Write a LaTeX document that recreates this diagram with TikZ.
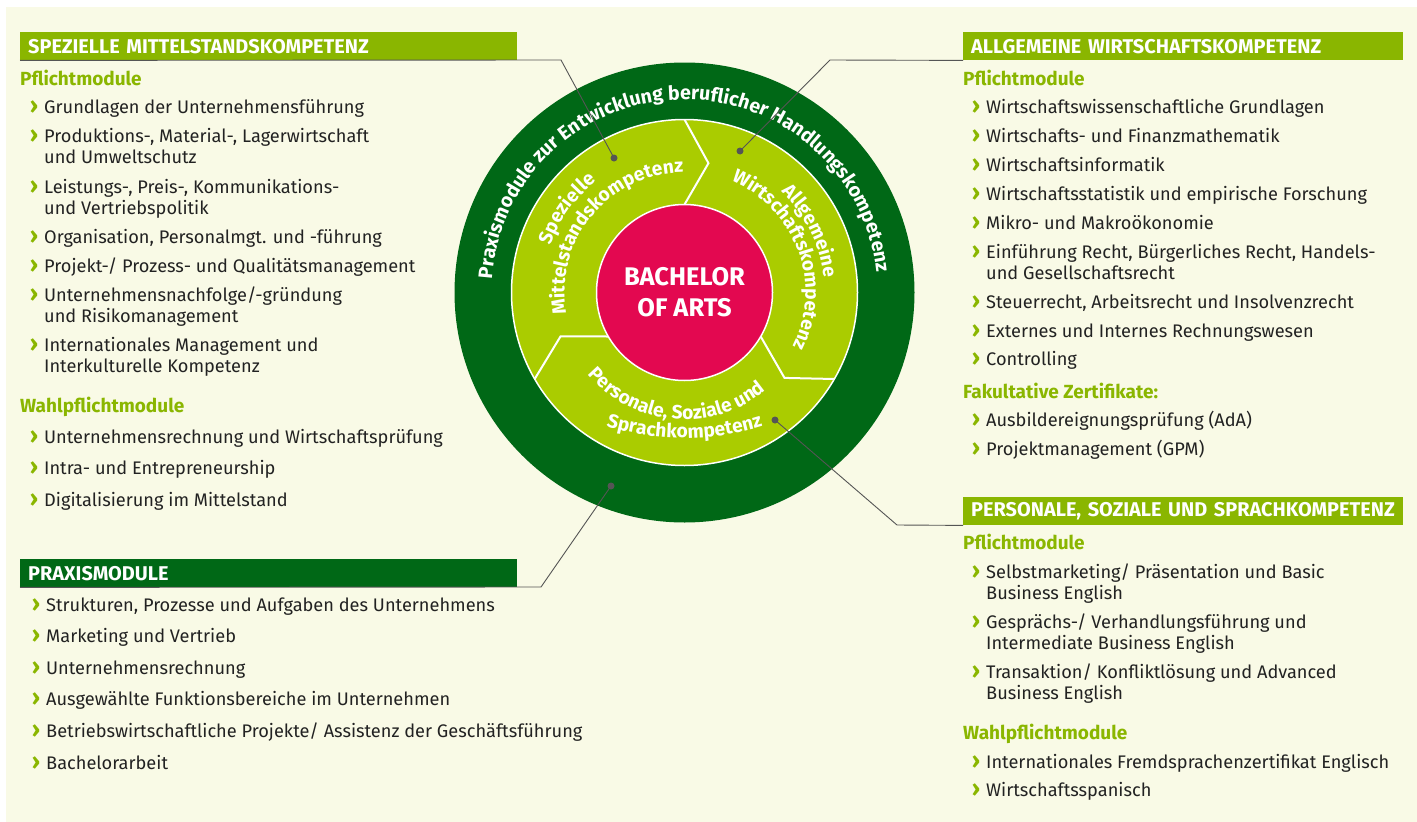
\documentclass[tikz,border=0pt]{standalone}
\usepackage{fontspec}
\setmainfont{Fira Sans}
\usetikzlibrary{decorations.text}

\definecolor{bacolor0000}{RGB}{249,250,230}
\definecolor{bacolor0001}{RGB}{138,182,0}
\definecolor{bacolor0002}{RGB}{170,204,0}
\definecolor{bacolor0003}{RGB}{0,104,22}
\definecolor{bacolor0004}{RGB}{227,8,80}
\definecolor{bacolor0005}{RGB}{85,85,85}
\definecolor{bacolor0006}{RGB}{34,34,34}

\newcommand{\kbul}{\llap{\textcolor{bacolor0001}{\bfseries\fontsize{23}{23}\selectfont ›}\hspace{6pt}}}
\newcommand{\kcurvefont}{\color{white}\bfseries\fontsize{19.6}{19}\selectfont}
\newcommand{\kinnerfont}{\color{white}\bfseries\fontsize{19.2}{19}\selectfont}

\begin{document}
\begin{tikzpicture}[
  yscale = -1,
  kstyle0/.style = {fill=bacolor0000},
  kstyle1/.style = {fill=bacolor0001,text=white,font=\bfseries\fontsize{19.9}{19.9}\selectfont,anchor=north west,inner xsep=8pt,inner ysep=0pt,minimum height=28pt,align=left},
  kstyle2/.style = {kstyle1,fill=bacolor0003},
  kstyle3/.style = {anchor=base west,inner sep=0pt,text=bacolor0001,font=\bfseries\fontsize{19}{21}\selectfont},
  kstyle4/.style = {anchor=base west,inner sep=0pt,align=left,text=bacolor0006,font=\fontsize{18.2}{21}\selectfont},
  kstyle5/.style = {color=white,line width=2pt,line join=miter},
  kstyle6/.style = {color=bacolor0005,line width=0.9pt},
  kstyle7/.style = {fill=bacolor0005},
]
  \useasboundingbox (0pt,0pt) rectangle (1417pt,822pt);
  \fill[kstyle0] (6pt,7pt) rectangle (1417pt,822pt);
  % circle
  \begin{scope}[shift={(684.5pt,292.5pt)},yscale=-1]
    \fill[bacolor0003] (0,0) circle (230pt);
    \draw[white,line width=1.5pt,fill=bacolor0002] (0,0) circle (173pt);
    \draw[kstyle5] (90:88pt) -- (79.5:131.5pt) -- (90:173pt);
    \draw[kstyle5] (210:88pt) -- (199.5:131.5pt) -- (210:173pt);
    \draw[kstyle5] (330:88pt) -- (319.5:131.5pt) -- (330:173pt);
    \draw[white,line width=1.5pt,fill=bacolor0004] (0,0) circle (88pt);
    \node (kBA) at (0pt,0pt)[align=center,text=white,font=\bfseries\fontsize{25.5}{31}\selectfont]{BACHELOR\\OF ARTS};
    \path[decorate,decoration={text along path,text align=center,text={|\kcurvefont|Praxismodule zur Entwicklung beruflicher Handlungskompetenz}}] (179:193pt) arc[start angle=179,end angle=3,radius=193pt];
    \path[decorate,decoration={text along path,text align=center,text={|\kinnerfont|Spezielle}}] (214.5:142pt) arc[start angle=214.5,end angle=74.5,radius=142pt];
    \path[decorate,decoration={text along path,text align=center,text={|\kinnerfont|Mittelstandskompetenz}}] (220.4:120pt) arc[start angle=220.4,end angle=60.4,radius=120pt];
    \path[decorate,decoration={text along path,text align=center,text={|\kinnerfont|Allgemeine}}] (96:140pt) arc[start angle=96,end angle=-44,radius=140pt];
    \path[decorate,decoration={text along path,text align=center,text={|\kinnerfont|Wirtschaftskompetenz}}] (100.3:121pt) arc[start angle=100.3,end angle=-59.7,radius=121pt];
    \path[decorate,decoration={text along path,text align=center,text={|\kinnerfont|Personale{,} Soziale und}}] (185:127pt) arc[start angle=185,end angle=345,radius=127pt];
    \path[decorate,decoration={text along path,text align=center,text={|\kinnerfont|Sprachkompetenz}}] (-153.15pt,-97.22pt) arc[start angle=235,end angle=305,radius=267pt];
  \end{scope}
  % connectors
  \coordinate (dSMK) at (614pt,158pt);
  \coordinate (kSMK) at (561pt,60pt);
  \coordinate (dAWK) at (740pt,151pt);
  \coordinate (kAWK) at (830pt,60pt);
  \coordinate (dPSS) at (775pt,420pt);
  \coordinate (kPSS) at (897pt,525pt);
  \coordinate (dPRX) at (611pt,486pt);
  \coordinate (kPRX) at (541pt,587pt);
  \node (hSMK) at (20pt,32pt)[kstyle1,text width=481pt]{SPEZIELLE MITTELSTANDSKOMPETENZ};
  \node (hAWK) at (963pt,32pt)[kstyle1,text width=424pt]{ALLGEMEINE WIRTSCHAFTSKOMPETENZ};
  \node (hPSS) at (963pt,497pt)[kstyle1,text width=424pt]{PERSONALE, SOZIALE UND SPRACHKOMPETENZ};
  \node (hPRX) at (20pt,559pt)[kstyle2,text width=481pt]{PRAXISMODULE};
  \draw[kstyle6] (hSMK.south west) -- (kSMK) -- (dSMK);
  \draw[kstyle6] (hAWK.south west) -- (kAWK) -- (dAWK);
  \draw[kstyle6] (hPSS.south west) -- (kPSS) -- (dPSS);
  \draw[kstyle6] (hPRX.south west) -- (kPRX) -- (dPRX);
  \fill[kstyle7] (dSMK) circle (3.5pt);
  \fill[kstyle7] (dAWK) circle (3.5pt);
  \fill[kstyle7] (dPSS) circle (3.5pt);
  \fill[kstyle7] (dPRX) circle (3.5pt);
  % left column
  \node (sPfl) at (20pt,85pt)[kstyle3]{Pflichtmodule};
  \node (s1) at (44pt,113.5pt)[kstyle4]{\kbul Grundlagen der Unternehmensführung};
  \node (s2) at (44pt,163.5pt)[kstyle4]{\kbul Produktions-, Material-, Lagerwirtschaft\\und Umweltschutz};
  \node (s3) at (44pt,214.5pt)[kstyle4]{\kbul Leistungs-, Preis-, Kommunikations-\\und Vertriebspolitik};
  \node (s4) at (44pt,243.5pt)[kstyle4]{\kbul Organisation, Personalmgt. und -führung};
  \node (s5) at (44pt,272.5pt)[kstyle4]{\kbul Projekt-/ Prozess- und Qualitätsmanagement};
  \node (s6) at (44pt,322.5pt)[kstyle4]{\kbul Unternehmensnachfolge/-gründung\\und Risikomanagement};
  \node (s7) at (44pt,372.5pt)[kstyle4]{\kbul Internationales Management und\\Interkulturelle Kompetenz};
  \node (sWpf) at (20pt,412pt)[kstyle3]{Wahlpflichtmodule};
  \node (s8) at (44pt,443.5pt)[kstyle4]{\kbul Unternehmensrechnung und Wirtschaftsprüfung};
  \node (s9) at (44pt,474.5pt)[kstyle4]{\kbul Intra- und Entrepreneurship};
  \node (s10) at (44pt,506.5pt)[kstyle4]{\kbul Digitalisierung im Mittelstand};
  \node (p1) at (46pt,611.5pt)[kstyle4]{\kbul Strukturen, Prozesse und Aufgaben des Unternehmens};
  \node (p2) at (46pt,642.5pt)[kstyle4]{\kbul Marketing und Vertrieb};
  \node (p3) at (46pt,674.5pt)[kstyle4]{\kbul Unternehmensrechnung};
  \node (p4) at (46pt,705.5pt)[kstyle4]{\kbul Ausgewählte Funktionsbereiche im Unternehmen};
  \node (p5) at (46pt,737.5pt)[kstyle4]{\kbul Betriebswirtschaftliche Projekte/ Assistenz der Geschäftsführung};
  \node (p6) at (46pt,769.5pt)[kstyle4]{\kbul Bachelorarbeit};
  % right column
  \node (aPfl) at (963pt,85pt)[kstyle3]{Pflichtmodule};
  \node (a1) at (986pt,113.5pt)[kstyle4]{\kbul Wirtschaftswissenschaftliche Grundlagen};
  \node (a2) at (986pt,142.5pt)[kstyle4]{\kbul Wirtschafts- und Finanzmathematik};
  \node (a3) at (986pt,171.5pt)[kstyle4]{\kbul Wirtschaftsinformatik};
  \node (a4) at (986pt,200.5pt)[kstyle4]{\kbul Wirtschaftsstatistik und empirische Forschung};
  \node (a5) at (986pt,229.5pt)[kstyle4]{\kbul Mikro- und Makroökonomie};
  \node (a6) at (986pt,279.5pt)[kstyle4]{\kbul Einführung Recht, Bürgerliches Recht, Handels-\\und Gesellschaftsrecht};
  \node (a7) at (986pt,308.5pt)[kstyle4]{\kbul Steuerrecht, Arbeitsrecht und Insolvenzrecht};
  \node (a8) at (986pt,337.5pt)[kstyle4]{\kbul Externes und Internes Rechnungswesen};
  \node (a9) at (986pt,365.5pt)[kstyle4]{\kbul Controlling};
  \node (aFak) at (963pt,398pt)[kstyle3]{Fakultative Zertifikate:};
  \node (a10) at (986pt,426.5pt)[kstyle4]{\kbul Ausbildereignungsprüfung (AdA)};
  \node (a11) at (986pt,455.5pt)[kstyle4]{\kbul Projektmanagement (GPM)};
  \node (qPfl) at (963pt,549pt)[kstyle3]{Pflichtmodule};
  \node (q1) at (986pt,599.5pt)[kstyle4]{\kbul Selbstmarketing/ Präsentation und Basic\\Business English};
  \node (q2) at (986pt,649.5pt)[kstyle4]{\kbul Gesprächs-/ Verhandlungsführung und\\Intermediate Business English};
  \node (q3) at (986pt,699.5pt)[kstyle4]{\kbul Transaktion/ Konfliktlösung und Advanced\\Business English};
  \node (qWpf) at (963pt,739pt)[kstyle3]{Wahlpflichtmodule};
  \node (q4) at (986pt,768.5pt)[kstyle4]{\kbul Internationales Fremdsprachenzertifikat Englisch};
  \node (q5) at (986pt,796.5pt)[kstyle4]{\kbul Wirtschaftsspanisch};
\end{tikzpicture}
\end{document}
